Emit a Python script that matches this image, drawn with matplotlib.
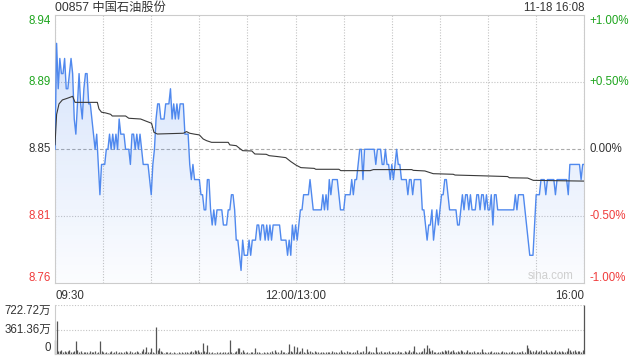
import matplotlib
matplotlib.use("Agg")
import matplotlib.pyplot as plt
import matplotlib.transforms as mtransforms
from matplotlib.colors import LinearSegmentedColormap
from matplotlib.patches import PathPatch
import numpy as np

plt.rcParams['font.family'] = ['Liberation Sans', 'Noto Sans CJK SC', 'DejaVu Sans']

code = "00857"
name = "中国石油股份"
stamp = "11-18 16:08"
prev_close = 8.85

# last price for each trading minute, 09:30 .. 16:00 (lunch break removed)
price = [
    8.85, 8.92, 8.89, 8.91, 8.90, 8.90, 8.91, 8.89, 8.89, 8.90,
    8.91, 8.90, 8.87, 8.86, 8.88, 8.90, 8.88, 8.87, 8.89, 8.90,
    8.90, 8.88, 8.88, 8.87, 8.86, 8.85, 8.86, 8.84, 8.82, 8.84,
    8.84, 8.84, 8.85, 8.85, 8.86, 8.85, 8.86, 8.85, 8.86, 8.85,
    8.87, 8.86, 8.86, 8.86, 8.85, 8.85, 8.85, 8.84, 8.86, 8.86,
    8.85, 8.86, 8.85, 8.86, 8.85, 8.84, 8.84, 8.84, 8.84, 8.83,
    8.82, 8.84, 8.85, 8.87, 8.88, 8.88, 8.87, 8.87, 8.87, 8.88,
    8.88, 8.88, 8.89, 8.87, 8.88, 8.87, 8.88, 8.87, 8.88, 8.88,
    8.88, 8.86, 8.86, 8.86, 8.84, 8.83, 8.84, 8.83, 8.83, 8.83,
    8.83, 8.82, 8.82, 8.81, 8.81, 8.83, 8.83, 8.81, 8.80, 8.81,
    8.80, 8.81, 8.81, 8.81, 8.81, 8.80, 8.80, 8.80, 8.81, 8.81,
    8.82, 8.82, 8.81, 8.79, 8.79, 8.78, 8.77, 8.79, 8.78, 8.78,
    8.78, 8.79, 8.78, 8.79, 8.79, 8.79, 8.80, 8.80, 8.79, 8.80,
    8.80, 8.79, 8.80, 8.79, 8.80, 8.79, 8.80, 8.80, 8.80, 8.80,
    8.80, 8.79, 8.79, 8.79, 8.79, 8.78, 8.79, 8.78, 8.80, 8.79,
    8.80, 8.79, 8.80, 8.81, 8.81, 8.82, 8.82, 8.82, 8.82, 8.83,
    8.82, 8.81, 8.81, 8.81, 8.81, 8.81, 8.81, 8.82, 8.81, 8.82,
    8.81, 8.83, 8.82, 8.83, 8.83, 8.83, 8.83, 8.82, 8.81, 8.81,
    8.81, 8.82, 8.82, 8.82, 8.82, 8.83, 8.82, 8.83, 8.83, 8.84,
    8.85, 8.85, 8.83, 8.85, 8.85, 8.85, 8.85, 8.85, 8.85, 8.85,
    8.84, 8.85, 8.85, 8.85, 8.84, 8.84, 8.85, 8.84, 8.84, 8.83,
    8.84, 8.83, 8.84, 8.85, 8.84, 8.84, 8.83, 8.83, 8.83, 8.83,
    8.82, 8.83, 8.83, 8.82, 8.83, 8.83, 8.83, 8.83, 8.83, 8.81,
    8.81, 8.80, 8.79, 8.80, 8.80, 8.81, 8.79, 8.80, 8.81, 8.80,
    8.81, 8.82, 8.82, 8.83, 8.83, 8.82, 8.81, 8.81, 8.81, 8.81,
    8.81, 8.80, 8.80, 8.81, 8.82, 8.81, 8.82, 8.82, 8.81, 8.82,
    8.81, 8.81, 8.81, 8.82, 8.82, 8.81, 8.82, 8.82, 8.81, 8.82,
    8.81, 8.81, 8.82, 8.80, 8.82, 8.82, 8.81, 8.81, 8.81, 8.81,
    8.81, 8.81, 8.81, 8.81, 8.81, 8.81, 8.81, 8.82, 8.81, 8.82,
    8.82, 8.82, 8.82, 8.81, 8.80, 8.79, 8.78, 8.78, 8.78, 8.80,
    8.82, 8.82, 8.82, 8.83, 8.83, 8.83, 8.82, 8.83, 8.83, 8.83,
    8.83, 8.83, 8.82, 8.83, 8.83, 8.83, 8.83, 8.83, 8.83, 8.83,
    8.82, 8.84, 8.84, 8.84, 8.84, 8.84, 8.84, 8.84, 8.83, 8.84,
    8.84,
]

# average price line, read as (minute, value) vertices
avg_min = [0, 1, 2.5, 4.6, 7.7, 11, 12.5, 26.4, 27.4, 29, 31.6, 34.7, 35.7, 44, 46,
           53.4, 56.5, 60.2, 61.7, 63.8, 80, 82, 84, 87, 90, 92.4, 94.5, 97.6, 108,
           109, 113, 115, 117, 122.7, 124.6, 131.7, 133.5, 138.7, 143.9, 147, 150.2,
           153.3, 161.6, 162.6, 177, 178.2, 196.5, 198.5, 222.4, 223.4, 230.6, 235.8,
           248.3, 249.4, 263, 282.2, 283.3, 294.7, 298.2, 330]
avg_val = [8.853, 8.873, 8.880, 8.8826, 8.8837, 8.885, 8.881, 8.881, 8.8767, 8.8745,
           8.874, 8.8731, 8.872, 8.872, 8.8705, 8.870, 8.8687, 8.8672, 8.8612, 8.8601,
           8.8606, 8.8617, 8.8606, 8.860, 8.8595, 8.8568, 8.8557, 8.8546, 8.8546,
           8.8529, 8.8524, 8.8507, 8.8491, 8.8489, 8.8469, 8.8467, 8.8458, 8.8452,
           8.8445, 8.8419, 8.8396, 8.8379, 8.8374, 8.8368, 8.8368, 8.8359, 8.8359,
           8.8366, 8.8366, 8.8361, 8.8357, 8.8339, 8.8335, 8.833, 8.8326, 8.832,
           8.8312, 8.831, 8.8295, 8.829]

# volume per minute, in 万 shares; last bar is the closing auction
volume = [
    206, 487, 50, 40, 55, 30, 45, 25, 40, 60,
    30, 25, 45, 190, 60, 35, 40, 20, 30, 25,
    35, 20, 40, 25, 30, 45, 20, 35, 190, 40,
    25, 20, 30, 15, 25, 40, 20, 35, 45, 20,
    30, 25, 20, 35, 50, 25, 20, 40, 30, 20,
    25, 45, 30, 20, 40, 70, 30, 110, 25, 35,
    85, 30, 20, 400, 55, 85, 40, 30, 20, 25,
    30, 15, 25, 20, 35, 20, 15, 25, 20, 30,
    20, 25, 35, 20, 30, 40, 25, 60, 45, 60,
    35, 30, 165, 40, 25, 130, 30, 20, 25, 15,
    20, 25, 15, 30, 20, 25, 35, 20, 30, 206,
    25, 20, 30, 40, 90, 85, 30, 60, 25, 20,
    30, 20, 25, 35, 20, 90, 30, 25, 20, 15,
    25, 20, 30, 15, 25, 40, 20, 55, 25, 30,
    20, 55, 25, 35, 20, 30, 150, 40, 25, 120,
    30, 100, 25, 40, 85, 30, 20, 70, 25, 50,
    30, 20, 40, 25, 30, 20, 35, 25, 20, 30,
    25, 35, 20, 40, 25, 30, 20, 35, 60, 25,
    30, 20, 50, 25, 35, 20, 30, 25, 55, 20,
    30, 25, 40, 20, 118, 30, 50, 25, 35, 20,
    108, 30, 25, 40, 20, 35, 25, 30, 40, 20,
    35, 25, 30, 20, 45, 25, 30, 20, 50, 25,
    30, 55, 25, 40, 118, 30, 20, 35, 25, 40,
    84, 30, 133, 84, 40, 60, 25, 30, 20, 35,
    25, 50, 30, 60, 40, 55, 30, 45, 60, 35,
    25, 45, 30, 55, 40, 25, 30, 60, 35, 25,
    30, 40, 20, 35, 25, 30, 70, 25, 30, 20,
    35, 25, 40, 20, 30, 25, 35, 20, 30, 40,
    25, 30, 20, 35, 25, 40, 30, 20, 35, 25,
    30, 40, 20, 35, 133, 84, 60, 30, 49, 25,
    59, 30, 40, 55, 25, 35, 59, 30, 25, 49,
    35, 25, 59, 30, 40, 25, 49, 30, 35, 45,
    84, 59, 30, 49, 59, 35, 49, 40, 30, 60,
    722.72,
]

pct_ticks = [1.0, 0.5, 0.0, -0.5, -1.0]
price_labels = ["8.94", "8.89", "8.85", "8.81", "8.76"]
pct_labels = ["+1.00%", "+0.50%", "0.00%", "-0.50%", "-1.00%"]
time_ticks = list(range(0, 331, 30))
time_labels = ["09:30", "", "", "", "", "12:00/13:00", "", "", "", "", "", "16:00"]
vol_ticks = [722.72, 361.36, 0]
vol_labels = ["722.72万", "361.36万", "0"]

GREEN = "#1ea51e"
RED = "#f03c3c"
DARK = "#333333"
label_colors = [GREEN, GREEN, DARK, RED, RED]
LINE = "#5089ee"
GRID = "#c4c4c4"
FS = 8.3

minutes = np.arange(len(price))

fig = plt.figure(figsize=(6.4, 3.6), dpi=100)
ax = fig.add_axes([55 / 640, 76.7 / 360, 529.3 / 640, 268 / 360])
vax = fig.add_axes([55 / 640, 6 / 360, 529.3 / 640, 49 / 360])

ylo = prev_close * 0.99
yhi = prev_close * 1.01
ax.set_xlim(0, 330)
ax.set_ylim(ylo, yhi)

# gradient area under the price line
fill = ax.fill_between(minutes, price, ylo, color="none", lw=0)
cmap = LinearSegmentedColormap.from_list(
    "fade", [(0.31, 0.54, 0.94, 0.02), (0.31, 0.54, 0.94, 0.26)])
grad = np.linspace(0, 1, 256).reshape(-1, 1)
img = ax.imshow(grad, extent=[0, 330, ylo, yhi], aspect="auto", origin="lower",
                cmap=cmap, zorder=1)
clip = PathPatch(fill.get_paths()[0], transform=ax.transData, facecolor="none", edgecolor="none")
ax.add_patch(clip)
img.set_clip_path(clip)

ax.plot(minutes, price, color=LINE, lw=1.0, zorder=3)
ax.plot(avg_min, avg_val, color="#3a3a3a", lw=0.8, zorder=4)

# grid
for p in [0.5, -0.5]:
    ax.axhline(prev_close * (1 + p / 100), color=GRID, lw=0.8, ls=(0, (1, 1.5)), zorder=0)
ax.axhline(prev_close, color="#aaaaaa", lw=0.8, ls=(0, (3, 2)), zorder=0)
ax.set_xticks(time_ticks, time_labels)
ax.grid(axis="x", color=GRID, lw=0.8, ls=(0, (1, 1.5)))
ax.set_axisbelow(True)
ax.set_yticks([])
ax.tick_params(axis="x", length=0, pad=4.5, labelsize=FS, labelcolor=DARK)
has = ["left"] + ["center"] * 10 + ["right"]
for lbl, ha in zip(ax.get_xticklabels(), has):
    lbl.set_horizontalalignment(ha)
for s in ax.spines.values():
    s.set_color("#cccccc")
    s.set_linewidth(0.8)

# y labels on both sides
trans_l = mtransforms.blended_transform_factory(ax.transAxes, ax.transData)
for i, (p, pl, cl, c) in enumerate(zip(pct_ticks, price_labels, pct_labels, label_colors)):
    y = prev_close * (1 + p / 100)
    if i == 0:
        va, dy = "top", 0.0
    elif i == len(pct_ticks) - 1:
        va, dy = "baseline", 0.02
    else:
        va, dy = "center", 0.0
    off_l = mtransforms.ScaledTranslation(-0.04, dy, fig.dpi_scale_trans)
    off_r = mtransforms.ScaledTranslation(0.055, dy, fig.dpi_scale_trans)
    ax.text(0, y, pl, transform=trans_l + off_l, ha="right", va=va, color=c, fontsize=FS)
    ax.text(1, y, cl, transform=trans_l + off_r, ha="left", va=va, color=c, fontsize=FS)

ax.text(0.979, 0.006, "sina.com", transform=ax.transAxes, ha="right", va="bottom",
        color="#cfcfcf", fontsize=FS)

fig.text(55 / 640, 1 - 7.5 / 360, f"{code} {name}", ha="left", va="center",
         color=DARK, fontsize=8.8)
fig.text(584.5 / 640, 1 - 7.8 / 360, stamp, ha="right", va="center",
         color=DARK, fontsize=FS)

# volume panel
vax.set_xlim(0, 330)
vax.set_ylim(0, max(volume))
vax.vlines(np.arange(len(volume)), 0, volume, color="#555555", lw=0.9, clip_on=False)
for v in vol_ticks[:2]:
    vax.axhline(v, color=GRID, lw=0.8, ls=(0, (1, 1.5)), zorder=0)
vax.set_xticks([])
vax.set_yticks([])
for k in ["top", "right"]:
    vax.spines[k].set_visible(False)
for k in ["left", "bottom"]:
    vax.spines[k].set_color("#cccccc")
    vax.spines[k].set_linewidth(0.8)
vtrans = mtransforms.blended_transform_factory(vax.transAxes, vax.transData)
for i, (v, lab) in enumerate(zip(vol_ticks, vol_labels)):
    va = "top" if i == 0 else ("baseline" if i == 2 else "center")
    dy = 0.03 if i == 2 else 0.0
    off = mtransforms.ScaledTranslation(-0.04, dy, fig.dpi_scale_trans)
    vax.text(0, v, lab, transform=vtrans + off, ha="right", va=va, color=DARK, fontsize=FS)

fig.savefig("out.png", dpi=100, facecolor="white")
